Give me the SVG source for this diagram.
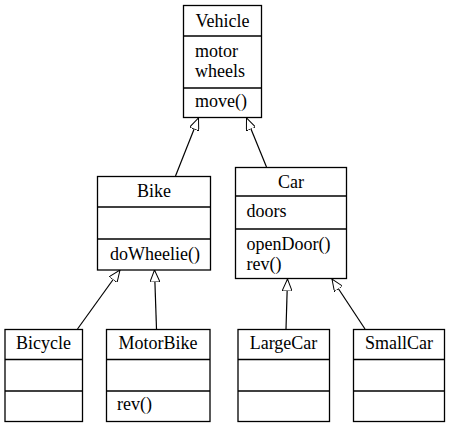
<svg xmlns="http://www.w3.org/2000/svg" width="449" height="428" viewBox="0 0 449 428">
<defs>
<marker id="tri" viewBox="0 0 12 10" refX="12" refY="5" markerWidth="12" markerHeight="10" markerUnits="userSpaceOnUse" orient="auto">
<path d="M0,0 L12,5 L0,10 Z" fill="#fff" stroke="#000" stroke-width="1"/>
</marker>
</defs>
<style>
.n rect{fill:#fff;stroke:#000;stroke-width:1.3}
line.d{fill:none;stroke:#000;stroke-width:1.3}
text{font-family:"Liberation Serif","Times New Roman",serif;font-size:18px;fill:#000}
.c{text-anchor:middle}
.e{stroke:#000;stroke-width:1.2;fill:none;marker-end:url(#tri)}
</style>
<rect x="0" y="0" width="449" height="428" style="fill:#fff;stroke:none"/>
<g id="edges">
<line class="e" x1="175.5" y1="176" x2="198.5" y2="118"/>
<line class="e" x1="266.5" y1="167" x2="246.5" y2="118"/>
<line class="e" x1="77.5" y1="329" x2="120" y2="270"/>
<line class="e" x1="156.5" y1="329" x2="154.5" y2="270"/>
<line class="e" x1="286" y1="329" x2="287.5" y2="279"/>
<line class="e" x1="365" y1="329" x2="332" y2="279"/>
</g>
<g id="Vehicle" class="n">
<rect x="183.5" y="5.5" width="78" height="112"/>
<line class="d" x1="183.5" y1="36" x2="261.5" y2="36"/>
<line class="d" x1="183.5" y1="88" x2="261.5" y2="88"/>
<text class="c" x="222.5" y="27">Vehicle</text>
<text x="195" y="56.5">motor</text>
<text x="195" y="76.5">wheels</text>
<text x="195" y="107">move()</text>
</g>
<g id="Bike" class="n">
<rect x="97.5" y="176.5" width="113" height="93.5"/>
<line class="d" x1="97.5" y1="207" x2="210.5" y2="207"/>
<line class="d" x1="97.5" y1="239" x2="210.5" y2="239"/>
<text class="c" x="154" y="197">Bike</text>
<text x="110" y="260">doWheelie()</text>
</g>
<g id="Car" class="n">
<rect x="235.5" y="167.5" width="111" height="111"/>
<line class="d" x1="235.5" y1="196" x2="346.5" y2="196"/>
<line class="d" x1="235.5" y1="229" x2="346.5" y2="229"/>
<text class="c" x="291" y="188">Car</text>
<text x="246.5" y="217">doors</text>
<text x="246.5" y="250">openDoor()</text>
<text x="246.5" y="270">rev()</text>
</g>
<g id="Bicycle" class="n">
<rect x="5" y="329.5" width="77.5" height="92"/>
<line class="d" x1="5" y1="359.5" x2="82.5" y2="359.5"/>
<line class="d" x1="5" y1="391" x2="82.5" y2="391"/>
<text class="c" x="43.5" y="348.5">Bicycle</text>
</g>
<g id="MotorBike" class="n">
<rect x="106.5" y="329.5" width="103.5" height="92"/>
<line class="d" x1="106.5" y1="359.5" x2="210" y2="359.5"/>
<line class="d" x1="106.5" y1="391" x2="210" y2="391"/>
<text class="c" x="158" y="348.5">MotorBike</text>
<text x="117" y="410">rev()</text>
</g>
<g id="LargeCar" class="n">
<rect x="238" y="329.5" width="91.5" height="92"/>
<line class="d" x1="238" y1="359.5" x2="329.5" y2="359.5"/>
<line class="d" x1="238" y1="391" x2="329.5" y2="391"/>
<text class="c" x="283.5" y="348.5">LargeCar</text>
</g>
<g id="SmallCar" class="n">
<rect x="353.5" y="329.5" width="91" height="92"/>
<line class="d" x1="353.5" y1="359.5" x2="444.5" y2="359.5"/>
<line class="d" x1="353.5" y1="391" x2="444.5" y2="391"/>
<text class="c" x="399" y="348.5">SmallCar</text>
</g>
</svg>
